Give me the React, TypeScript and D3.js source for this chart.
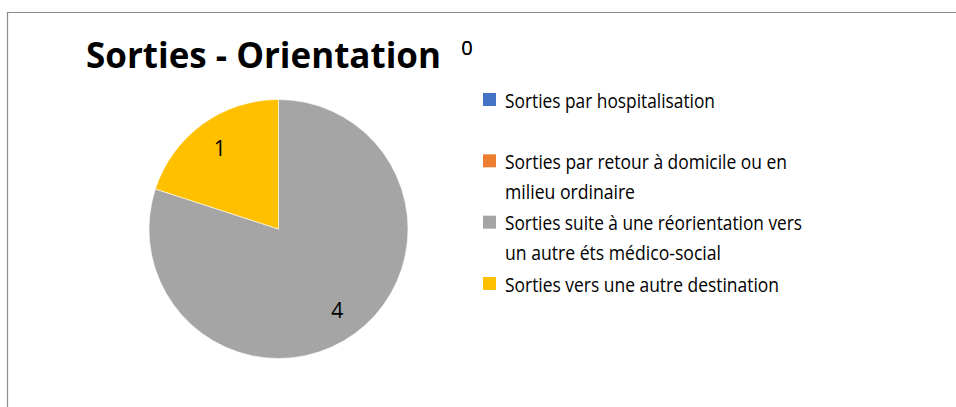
import React from "react";
import * as d3 from "d3";

const categories = [
  "Sorties par hospitalisation",
  "Sorties par retour à domicile ou en milieu ordinaire",
  "Sorties suite à une réorientation vers un autre éts médico-social",
  "Sorties vers une autre destination",
];
const values = [0, 0, 4, 1];
const colors = ["#4472C4", "#ED7D31", "#A5A5A5", "#FFC000"];
const legendLines = [
  ["Sorties par hospitalisation"],
  ["Sorties par retour à domicile ou en", "milieu ordinaire"],
  ["Sorties suite à une réorientation vers", "un autre éts médico-social"],
  ["Sorties vers une autre destination"],
];
const legendWidths = [
  [210],
  [282, 130],
  [297, 216],
  [274],
];
const title = "Sorties - Orientation";

export default function App() {
  const W = 956, H = 407;
  const cx = 278.5, cy = 229, r = 129.5;
  const pie = d3.pie<number>().sort(null).value((d) => d);
  const arcs = pie(values);
  const arc = d3.arc<d3.PieArcDatum<number>>().innerRadius(0).outerRadius(r);
  const labelArc = d3.arc<d3.PieArcDatum<number>>().innerRadius(100).outerRadius(100);
  const legendY = d3.scaleLinear().domain([0, 3]).range([100, 284]);

  return (
    <svg
      width={W}
      height={H}
      style={{ position: "absolute", left: 0, top: 0, background: "#fff" }}
    >
      <rect x={0} y={0} width={W} height={H} fill="#fff" />
      <path d={`M7.5,${H} V12.5 H${W}`} fill="none" stroke="#8c8c8c" strokeWidth={1.2} />
      <text
        x={86}
        y={68}
        fontFamily="'Open Sans', sans-serif"
        fontWeight={700}
        fontSize={35}
        textLength={355}
        lengthAdjust="spacingAndGlyphs"
        fill="#000"
      >
        {title}
      </text>
      <g transform={`translate(${cx},${cy})`}>
        {arcs.map((a, i) =>
          a.value > 0 ? (
            <path key={categories[i]} d={arc(a) || ""} fill={colors[i]} stroke="#fff" strokeWidth={0.6} />
          ) : null
        )}
        {arcs.map((a, i) => {
          if (a.value <= 0) return null;
          const [lx, ly] = labelArc.centroid(a);
          return (
            <text
              key={"l" + i}
              x={lx}
              y={ly}
              textAnchor="middle"
              dominantBaseline="central"
              fontFamily="'Open Sans', sans-serif"
              fontSize={21}
              fill="#000"
            >
              {a.value}
            </text>
          );
        })}
      </g>
      {values.map((v, i) =>
        v === 0 ? (
          <text
            key={"z" + i}
            x={467}
            y={47}
            textAnchor="middle"
            dominantBaseline="central"
            fontFamily="'Open Sans', sans-serif"
            fontSize={20}
            fill="#000"
          >
            {v}
          </text>
        ) : null
      )}
      {legendLines.map((lines, i) => {
        const y = legendY(i);
        return (
          <g key={"lg" + i}>
            <rect x={483} y={y - 7} width={13} height={13} fill={colors[i]} />
            {lines.map((t, j) => (
              <text
                key={j}
                x={505}
                y={y + j * 30}
                dominantBaseline="central"
                fontFamily="'Open Sans', sans-serif"
                fontSize={19.5}
                textLength={legendWidths[i][j]}
                lengthAdjust="spacingAndGlyphs"
                fill="#000"
              >
                {t}
              </text>
            ))}
          </g>
        );
      })}
    </svg>
  );
}
